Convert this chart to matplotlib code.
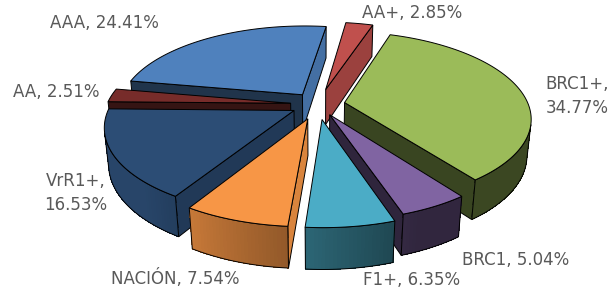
import numpy as np
import matplotlib
matplotlib.use('Agg')
import matplotlib.pyplot as plt
from matplotlib.colors import to_rgb

# ---- data ----
labels = ['AA+', 'BRC1+', 'BRC1', 'F1+', 'NACIÓN', 'VrR1+', 'AA', 'AAA']
values = [2.85, 34.77, 5.04, 6.35, 7.54, 16.53, 2.51, 24.41]

# ---- style ----
colors = ['#C0504D', '#9BBB59', '#8064A2', '#4BACC6', '#F79646', '#2C4D75', '#772C2A', '#4F81BD']
explode = [0.19, 0.147, 0.135, 0.175, 0.175, 0.147, 0.15, 0.147]
label_pos = [(412, 13), (577, 96), (516, 260), (412, 280), (175, 278), (76, 193), (56, 92), (104, 23)]
label_break = [False, True, False, False, False, True, False, False]

# ---- 3D view parameters ----
CX, CY, F, DIST = 318.0, 104.5, 950.0, 5.17
PHI = np.radians(27.1)
S, C = np.sin(PHI), np.cos(PHI)
H = 0.224
START = 8.0
CAM = np.array([0.0, -DIST * C, DIST * S])


def proj(u, w, z):
    u = np.asarray(u, float); w = np.asarray(w, float); z = np.asarray(z, float)
    depth = DIST + w * C - z * S
    up = z * C + w * S
    return CX + F * u / depth, CY - F * up / depth


def shade(col, k):
    return tuple(np.clip(np.array(to_rgb(col)) * k, 0, 1))


def k_side(t):
    return float(np.clip(0.40 + 0.0078 * ((t % 360) - 160), 0.38, 0.9))


def k_cut(psi):
    return float(np.clip(0.9 - 0.005 * ((psi % 360) - 90), 0.37, 0.9))


fig = plt.figure(figsize=(6.12, 2.94), dpi=100)
ax = fig.add_axes([0, 0, 1, 1])
ax.set_xlim(0, 612)
ax.set_ylim(294, 0)
ax.axis('off')

vals = np.array(values, float)
cum = np.concatenate([[0], np.cumsum(vals) / vals.sum()])
starts = START + 360 * cum[:-1]
ends = START + 360 * cum[1:]

slices = []
for i in range(len(vals)):
    a, b = starts[i], ends[i]
    m = np.radians((a + b) / 2)
    ou, ow = explode[i] * np.sin(m), explode[i] * np.cos(m)
    cen_w = ow + 0.6 * np.cos(m)
    slices.append((cen_w, i, a, b, ou, ow))

slices.sort(key=lambda s: -s[0])
LW = 0.7

for _, i, a, b, ou, ow in slices:
    col = colors[i]
    n = max(int(b - a) + 2, 3)
    t = np.linspace(a, b, n)
    tr = np.radians(t)
    ru = ou + np.sin(tr)
    rw = ow + np.cos(tr)

    # cut faces
    for ang, psi in ((a, a - 90), (b, b + 90)):
        nr = np.radians(psi)
        nvec = np.array([np.sin(nr), np.cos(nr), 0.0])
        p = np.array([ou, ow, 0.0])
        if np.dot(nvec, CAM - p) > 0:
            ar = np.radians(ang)
            uu = [ou, ou + np.sin(ar), ou + np.sin(ar), ou]
            ww = [ow, ow + np.cos(ar), ow + np.cos(ar), ow]
            zz = [0, 0, -H, -H]
            X, Y = proj(uu, ww, zz)
            ax.fill(X, Y, facecolor=shade(col, k_cut(psi)), edgecolor='black', lw=LW, zorder=1)

    # outer side (shaded strips, then one outline)
    vis = (-1 - ou * np.sin(tr) - (DIST * C + ow) * np.cos(tr)) > 0
    if vis.sum() >= 2:
        idx = np.where(vis)[0]
        Xt, Yt = proj(ru[idx], rw[idx], np.zeros(len(idx)))
        Xb, Yb = proj(ru[idx], rw[idx], np.full(len(idx), -H))
        for j in range(len(idx) - 1):
            kk = k_side((t[idx[j]] + t[idx[j + 1]]) / 2)
            fc = shade(col, kk)
            ax.fill([Xt[j], Xt[j + 1], Xb[j + 1], Xb[j]], [Yt[j], Yt[j + 1], Yb[j + 1], Yb[j]],
                    facecolor=fc, edgecolor='none', lw=0, antialiased=False, zorder=1)
        ax.fill(np.concatenate([Xt, Xb[::-1]]), np.concatenate([Yt, Yb[::-1]]),
                facecolor='none', edgecolor='black', lw=LW, zorder=1)

    # top face
    X, Y = proj(np.concatenate([[ou], ru]), np.concatenate([[ow], rw]), np.zeros(n + 1))
    ax.fill(X, Y, facecolor=col, edgecolor='black', lw=LW, zorder=1)

for i in range(len(vals)):
    sep = ',\n' if label_break[i] else ', '
    txt = f"{labels[i]}{sep}{values[i]:.2f}%"
    ax.text(label_pos[i][0], label_pos[i][1], txt, ha='center', va='center',
            fontsize=12, color='#595959', family='DejaVu Sans', linespacing=1.45)

fig.savefig('out.png', dpi=100)
